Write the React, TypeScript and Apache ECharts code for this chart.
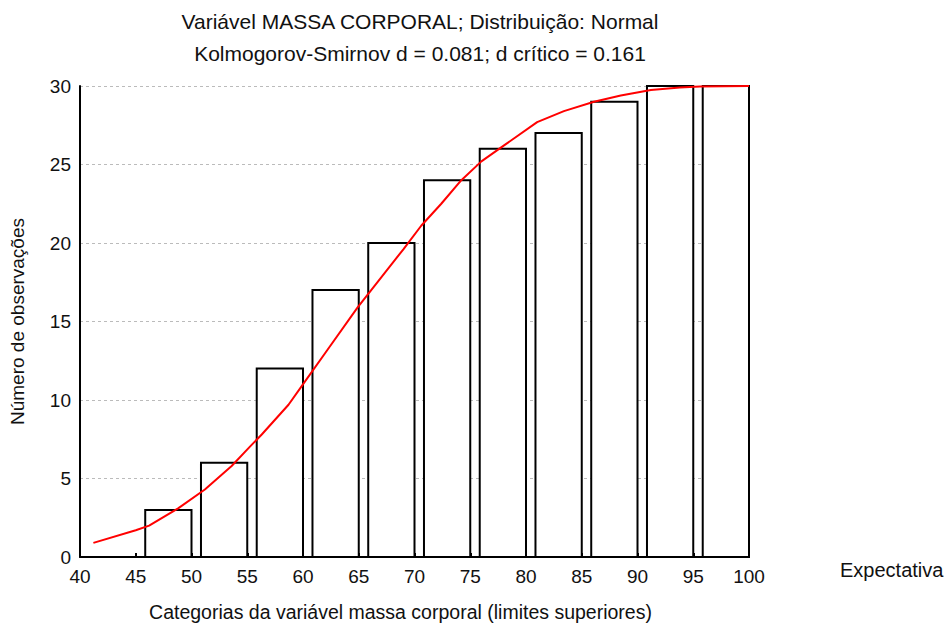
import React, { useEffect, useRef } from "react";
import * as echarts from "echarts";

const titleLine1 = "Variável MASSA CORPORAL; Distribuição: Normal";
const titleLine2 = "Kolmogorov-Smirnov d = 0.081; d crítico = 0.161";
const xAxisName = "Categorias da variável massa corporal (limites superiores)";
const yAxisName = "Número de observações";
const legendLabel = "Expectativa";

// upper limits of each category and the observed cumulative counts
const upperLimits = [50, 55, 60, 65, 70, 75, 80, 85, 90, 95, 100];
const observed = [3, 6, 12, 17, 20, 24, 26, 27, 29, 30, 30];
const binWidth = 4.15;

// expected (normal) cumulative curve
const expectedX = [41.2, 45, 46.2, 48.8, 51.2, 53.6, 55.2, 56.3, 58.7, 59.9, 62.2, 64.9, 67, 69, 70.6, 72.4, 74.2, 76, 78, 81, 83.4, 86.1, 88.5, 91.2, 93.8, 95.6, 100];
const expectedY = [0.9, 1.7, 2.0, 3.1, 4.3, 5.8, 7.0, 7.8, 9.7, 10.9, 13.2, 15.9, 17.8, 19.6, 21.1, 22.5, 24.0, 25.2, 26.2, 27.7, 28.4, 29.0, 29.4, 29.75, 29.9, 29.97, 30];

export default function App() {
  const ref = useRef<HTMLDivElement>(null);
  useEffect(() => {
    if (!ref.current) return;
    const chart = echarts.init(ref.current, null, { renderer: "svg" });
    const font = "'Liberation Sans', Arial, sans-serif";
    chart.setOption({
      animation: false,
      textStyle: { fontFamily: font },
      title: [
        { text: titleLine1, left: 415, top: 6, textAlign: "center", textStyle: { fontSize: 21, fontWeight: "normal", color: "#111", fontFamily: font } },
        { text: titleLine2, left: 415, top: 38, textAlign: "center", textStyle: { fontSize: 21, fontWeight: "normal", color: "#111", fontFamily: font } },
      ],
      grid: { left: 78, right: 202, top: 86, bottom: 69, containLabel: false },
      xAxis: {
        type: "value",
        min: 40,
        max: 100,
        interval: 5,
        name: xAxisName,
        nameLocation: "middle",
        nameGap: 45,
        nameTextStyle: { fontSize: 19.5, color: "#111", fontFamily: font, padding: [0, 28, 0, 0] },
        axisLine: { show: true, lineStyle: { color: "#000", width: 2 } },
        axisTick: { show: true, inside: true, length: 4, lineStyle: { color: "#000", width: 2 } },
        axisLabel: { fontSize: 19, color: "#111", margin: 10, fontFamily: font },
        splitLine: { show: false },
      },
      yAxis: {
        type: "value",
        min: 0,
        max: 30,
        interval: 5,
        name: yAxisName,
        nameLocation: "middle",
        nameGap: 53,
        nameRotate: 90,
        nameTextStyle: { fontSize: 19, color: "#111", fontFamily: font },
        axisLine: { show: true, lineStyle: { color: "#000", width: 2 } },
        axisTick: { show: false },
        axisLabel: { fontSize: 19, color: "#111", margin: 9, fontFamily: font },
        splitLine: { show: true, lineStyle: { color: "#bbb", type: [3, 3], width: 1 } },
      },
      series: [
        {
          type: "custom",
          z: 3,
          data: upperLimits.map((u, i) => [u, observed[i]]),
          renderItem: (params: any, api: any) => {
            const x1 = api.value(0);
            const v = api.value(1);
            const p0 = api.coord([x1 - binWidth, 0]);
            const p1 = api.coord([x1, v]);
            return {
              type: "rect",
              shape: { x: p0[0], y: p1[1], width: p1[0] - p0[0], height: p0[1] - p1[1] },
              style: { fill: "#fff", stroke: "#000", lineWidth: 2 },
            };
          },
        },
        {
          type: "line",
          z: 5,
          data: expectedX.map((x, i) => [x, expectedY[i]]),
          showSymbol: false,
          symbol: "none",
          lineStyle: { color: "#ff0000", width: 2 },
        },
      ],
      graphic: [
        { type: "text", left: 840, top: 560, style: { text: legendLabel, fill: "#111", font: "20px 'Liberation Sans', Arial, sans-serif" } },
      ],
    });
    return () => chart.dispose();
  }, []);
  return <div ref={ref} style={{ width: 951, height: 627, position: "absolute", left: 0, top: 0 }} />;
}
